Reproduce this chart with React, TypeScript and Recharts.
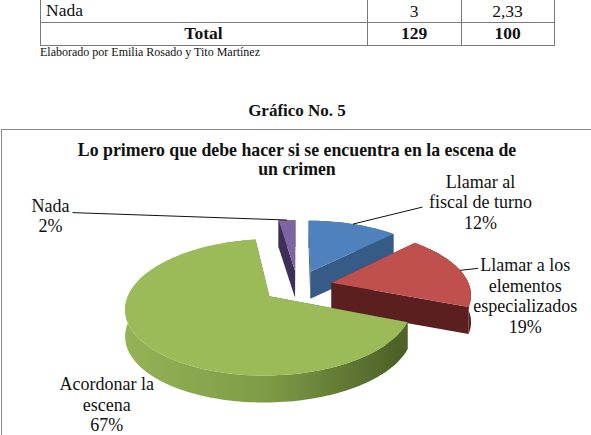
import React from 'react'
import { PieChart, Pie } from 'recharts'

// Gráfico No. 5 - answers (n = 129)
const categories = [
  'Llamar al fiscal de turno',
  'Llamar a los elementos especializados',
  'Acordonar la escena',
  'Nada',
]
const counts = [16, 24, 86, 3]
const labelWrap = [
  ['Llamar al', 'fiscal de turno'],
  ['Llamar a los', 'elementos', 'especializados'],
  ['Acordonar la', 'escena'],
  ['Nada'],
]

// last rows of the table printed above the chart
const tableRows = ['Nada', 'Total']
const tableCounts = ['3', '129']
const tablePercents = ['2,33', '100']

const topColors = ['#4F81BD', '#C0504D', '#9BBB59', '#8064A2']
const sideColors = ['#375B87', '#5A1F1E', '#4F6228', '#3D2F56']

const FONT = 'Liberation Serif, Tinos, DejaVu Serif, serif'

// fake 3d: perspective + tilt
const PERSP = 873
const TILT = 0.458
const THICK = 27
const EXPLODE = 35
const RAD = Math.PI / 180

const project = (cx: number, cy: number, X: number, Z: number, h: number) => {
  const s = PERSP / (PERSP + Z)
  return [cx + X * s, cy - Z * TILT * s + h]
}

const toPath = (pts: number[][]) => 'M' + pts.map(p => p[0].toFixed(2) + ',' + p[1].toFixed(2)).join('L') + 'Z'

const rimPoint = (cx: number, cy: number, mid: number, r: number) => {
  const ox = EXPLODE * Math.cos(mid * RAD)
  const oz = EXPLODE * Math.sin(mid * RAD)
  return project(cx, cy, ox + r * Math.cos(mid * RAD), oz + r * Math.sin(mid * RAD), 0)
}

function Slice3D(props: any) {
  const { cx, cy, outerRadius, startAngle, endAngle, midAngle, index } = props
  const r = outerRadius
  const ox = EXPLODE * Math.cos(midAngle * RAD)
  const oz = EXPLODE * Math.sin(midAngle * RAD)
  const n = Math.max(2, Math.ceil(Math.abs(endAngle - startAngle) / 1.5))
  const rim = (h: number) => {
    const pts: number[][] = []
    for (let i = 0; i <= n; i++) {
      const a = (startAngle + ((endAngle - startAngle) * i) / n) * RAD
      pts.push(project(cx, cy, ox + r * Math.cos(a), oz + r * Math.sin(a), h))
    }
    return pts
  }
  const top = rim(0)
  const bot = rim(THICK)
  const c0 = project(cx, cy, ox, oz, 0)
  const c1 = project(cx, cy, ox, oz, THICK)
  const gid = 'wall-' + index

  return (
    <g>
      <defs>
        <linearGradient id={gid} x1="0" y1="0" x2="1" y2="0">
          <stop offset="0" stopColor={index === 2 ? '#94B356' : sideColors[index]} />
          <stop offset="0.5" stopColor={index === 2 ? '#7E9C46' : sideColors[index]} />
          <stop offset="1" stopColor={index === 2 ? '#4A5D25' : sideColors[index]} />
        </linearGradient>
      </defs>
      <path d={toPath([...top, ...bot.slice().reverse()])} fill={`url(#${gid})`} />
      <path d={toPath([c0, top[0], bot[0], c1])} fill={sideColors[index]} />
      <path d={toPath([c0, top[n], bot[n], c1])} fill={sideColors[index]} />
      <path d={toPath([c0, ...top])} fill={topColors[index]} />
    </g>
  )
}

const LINE = 20.7
const labelLayout = [
  { dx: 127.5, dy: -36.5, leader: [[69.5, -17]] },
  { dx: 65, dy: 0.7, leader: [[18, -2]] },
  { dx: -36, dy: 48, leader: [] as number[][] },
  { dx: -236.5, dy: -8.4, leader: [[-214.5, -7.4]] },
]

function renderLabel(props: any) {
  const { cx, cy, midAngle, outerRadius, percent, index } = props
  const [ax, ay] = rimPoint(cx, cy, midAngle, outerRadius)
  const lay = labelLayout[index]
  const lines = [...labelWrap[index], Math.round(percent * 100) + '%']
  const pts = [[ax, ay], ...lay.leader.map(([x, y]) => [ax + x, ay + y])]
  return (
    <g key={'lbl-' + index}>
      {lay.leader.length > 0 && (
        <polyline points={pts.map(p => p.join(',')).join(' ')} fill="none" stroke="#111" strokeWidth={1} />
      )}
      <text x={ax + lay.dx} y={ay + lay.dy} textAnchor="middle" fontFamily={FONT} fontSize={18} fill="#111">
        {lines.map((l, i) => (
          <tspan key={i} x={ax + lay.dx} dy={i === 0 ? 0 : LINE}>
            {l}
          </tspan>
        ))}
      </text>
    </g>
  )
}

const data = categories.map((name, i) => ({ name, value: counts[i] }))

const abs = (left: number, top: number, extra: React.CSSProperties = {}): React.CSSProperties => ({
  position: 'absolute',
  left,
  top,
  ...extra,
})

export default function App() {
  const lineColor = '#7a7a7a'
  return (
    <div style={{ position: 'relative', width: 591, height: 435, overflow: 'hidden', background: '#fff', fontFamily: FONT, color: '#111' }}>
      <style>{'body{margin:0}'}</style>

      {/* table tail */}
      <div style={abs(40, 45, { width: 514, height: 1.3, background: lineColor })} />
      <div style={abs(40, 22, { width: 514, height: 1.3, background: lineColor })} />
      {[40, 367, 461, 554].map(x => (
        <div key={x} style={abs(x, 0, { width: 1.3, height: 46, background: lineColor })} />
      ))}
      {tableRows.map((row, i) => {
        const cell: React.CSSProperties = {
          fontSize: 17.5,
          lineHeight: '20px',
          fontWeight: i === 0 ? 'normal' : 'bold',
          textAlign: 'center',
        }
        const top = i === 0 ? 1 : 23.4
        return (
          <React.Fragment key={row}>
            <div style={abs(i === 0 ? 46 : 40, i === 0 ? 0 : top, { ...cell, width: i === 0 ? 'auto' : 327, textAlign: i === 0 ? 'left' : 'center' })}>
              {row}
            </div>
            <div style={abs(367, top, { ...cell, width: 94 })}>{tableCounts[i]}</div>
            <div style={abs(461, top, { ...cell, width: 93 })}>{tablePercents[i]}</div>
          </React.Fragment>
        )
      })}
      <div style={abs(40, 44.6, { fontSize: 12, lineHeight: '14px' })}>Elaborado por Emilia Rosado y Tito Martínez</div>

      <div style={abs(0, 101.3, { width: 594, textAlign: 'center', fontSize: 17, lineHeight: '20px', fontWeight: 'bold' })}>
        Gráfico No. 5
      </div>

      {/* chart frame */}
      <div style={abs(0.5, 128.5, { width: 640, height: 360, border: '1.5px solid #888', boxSizing: 'border-box' })} />

      <div style={abs(0, 129)}>
        <PieChart width={591} height={306} margin={{ top: 0, right: 0, bottom: 0, left: 0 }}>
          <Pie
            data={data}
            dataKey="value"
            nameKey="name"
            cx={297.5}
            cy={157}
            outerRadius={138}
            startAngle={90}
            endAngle={-270}
            stroke="none"
            shape={Slice3D}
            label={renderLabel}
            labelLine={false}
            isAnimationActive={false}
          />
        </PieChart>
      </div>

      <div style={abs(0, 141.3, { width: 594, textAlign: 'center', fontSize: 17.8, lineHeight: '18.5px', fontWeight: 'bold' })}>
        Lo primero que debe hacer si se encuentra en la escena de
        <br />
        un crimen
      </div>
    </div>
  )
}
